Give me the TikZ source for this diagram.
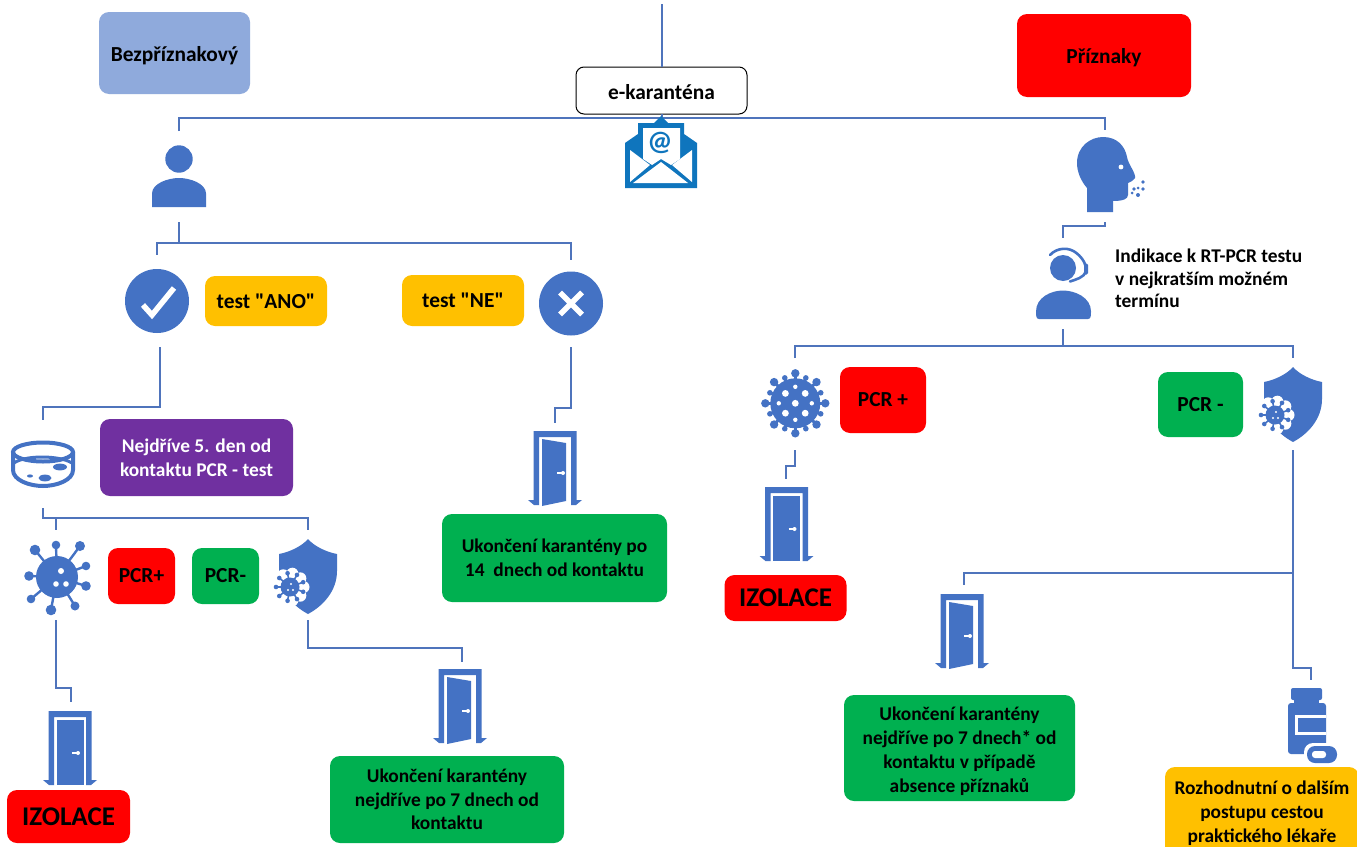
\documentclass[tikz,border=0pt]{standalone}
\usepackage{fontspec}
\setmainfont{Carlito}
\newfontfamily\qf{Carlito}
\newcommand\dnstrut[1]{\rule{0pt}{#1pt}}
\definecolor{ic}{HTML}{4472C4}
\definecolor{ln}{HTML}{4F74BC}
\definecolor{env}{HTML}{0F75BD}
\definecolor{boxblue}{HTML}{8FAADC}
\definecolor{boxred}{HTML}{FF0000}
\definecolor{boxgreen}{HTML}{00B050}
\definecolor{boxamber}{HTML}{FFC000}
\definecolor{boxpurple}{HTML}{7030A0}
\tikzset{
  lbl/.style={rounded corners=10pt,inner sep=0pt,outer sep=0pt,align=center,font=\bfseries\fontsize{19.4}{23.7}\selectfont,text=black},
  lblbig/.style={lbl,font=\bfseries\fontsize{21.4}{25}\selectfont},
  lblhuge/.style={lbl,font=\bfseries\fontsize{27}{30}\selectfont},
  hit/.style={inner sep=0pt,outer sep=0pt,minimum width=1pt},
  conn/.style={draw=ln,line width=1.4pt},
  doorframe/.pic={
    \fill[ic] (-21.5,-37) -- (21.5,-37) -- (21.5,32) -- (27,32) -- (21,37) -- (16,37) -- (16,-31) -- (-16,-31) -- (-16,37) -- (-21,37) -- (-27,32) -- (-21.5,32) -- cycle;
  },
  dooropen/.pic={
    \pic {doorframe};
    \fill[ic] (-13,-29) -- (11,-25) -- (11,33) -- (-13,38) -- cycle;
    \draw[white,line width=1.6pt] (2,5) -- (8,5);
    \fill[white] (8,5) circle (2);
  },
  doorclosed/.pic={
    \pic {doorframe};
    \fill[ic] (-13.5,-28) -- (13.5,-28) -- (13.5,37) -- (-13.5,37) -- cycle;
    \draw[white,line width=1.6pt] (2,5) -- (8,5);
    \fill[white] (8,5) circle (2);
  },
  personicon/.pic={
    \fill[ic] (0,-17.5) circle (13.7);
    \fill[ic] (-27,30.5) -- (-27,17) .. controls (-27,7) and (-11,1.5) .. (0,1.5) .. controls (11,1.5) and (27,7) .. (27,17) -- (27,30.5) -- cycle;
  },
  checkicon/.pic={
    \fill[ic] (0,0) circle (32);
    \draw[white,line width=5.5pt] (-14,4) -- (-5,14) -- (17,-13);
  },
  crossicon/.pic={
    \fill[ic] (0,0) circle (32);
    \draw[white,line width=5.5pt] (-11,-11) -- (11,11) (-11,11) -- (11,-11);
  },
  dishicon/.pic={
    \draw[ic,line width=4pt] (0,-12) ellipse (30 and 9.5);
    \draw[ic,line width=4pt] (-30,-12) -- (-30,6) .. controls (-30,16) and (-14,22) .. (0,22) .. controls (14,22) and (30,16) .. (30,6) -- (30,-12);
    \draw[ic,line width=3pt] (-29,-1) .. controls (-18,-9) and (16,-9) .. (29,-1);
    \fill[ic] (2,14) ellipse (6.5 and 3.4);
    \fill[ic] (-13,12) ellipse (3 and 1.6);
    \fill[ic] (17,3) ellipse (7 and 3.4);
  },
  virusa/.pic={
    \fill[ic] (0,0) circle (21);
    \foreach \bx/\by/\br in {-1/-32/4.3, 23/-31/5, 29/-11/4.3, 29/9/4.8, 18/29/4.5, -6/33/5.3, -26/22/4.3, -28/-1/4.8, -22/-27/5.3}{
      \draw[ic,line width=2.4pt] (0,0) -- (\bx,\by);
      \fill[ic] (\bx,\by) circle (\br);
    }
    \fill[white] (4,-6) circle (3);
    \fill[white] (-1,7) circle (2.8);
    \fill[white] (9,7) circle (2.8);
  },
  virusb/.pic={
    \fill[ic] (0,0) circle (25);
    \foreach \a in {0,45,...,315}{
      \draw[ic,line width=3pt] (0,0) -- (\a:30);
      \fill[ic] (\a:30) circle (4.2);
    }
    \foreach \a in {22.5,67.5,...,337.5}{
      \draw[ic,line width=3pt] (0,0) -- (\a:28);
      \fill[ic] (\a:27.5) circle (2.8);
    }
    \fill[white] (0,0) circle (3.4);
    \foreach \a in {45,135,225,315}{\fill[white] (\a:14) circle (3.4);}
    \foreach \a in {0,90,180,270}{\fill[white] (\a:16.5) circle (2.2);}
  },
  shieldicon/.pic={
    \fill[ic] (0,-37) .. controls (6,-30) and (18,-24) .. (29,-22) -- (29,-5) .. controls (29,15) and (15,30) .. (0,38) .. controls (-15,30) and (-29,15) .. (-29,-5) -- (-29,-22) .. controls (-18,-24) and (-6,-30) .. (0,-37) -- cycle;
    \begin{scope}[shift={(-18,11)}]
      \fill[white] (0,0) circle (14);
      \foreach \a in {0,40,...,320}{\fill[white] (\a:13.5) circle (6);}
      \fill[ic] (0,0) circle (9.5);
      \foreach \a in {20,60,...,340}{
        \draw[ic,line width=1.6pt] (0,0) -- (\a:14);
        \fill[ic] (\a:14) circle (2.3);
      }
      \fill[white] (1,-3) circle (1.1);
      \fill[white] (-2,3) circle (1.1);
      \fill[white] (3,3) circle (1.1);
    \end{scope}
  },
  headicon/.pic={
    \fill[ic] (-28,-13) .. controls (-28,-30) and (-14,-39) .. (-2,-39) .. controls (12,-39) and (20,-30) .. (22,-19) .. controls (23,-12) and (31,-3) .. (30,2) .. controls (28,5) and (25,6) .. (23,7) -- (23,19) .. controls (23,23) and (18,25) .. (8,25) -- (8,36) -- (-18,36) -- (-18,12) .. controls (-24,5) and (-28,-4) .. (-28,-13) -- cycle;
    \fill[white] (16,-9) circle (2.4);
    \fill[ic] (38,6) circle (1.8);
    \fill[ic] (38,13) circle (1.8);
    \fill[ic] (33,19) circle (2);
    \fill[ic] (29,13) circle (1.8);
    \fill[ic] (33,12) circle (1.5);
    \fill[ic] (27,17) circle (1.5);
  },
  agenticon/.pic={
    \fill[ic] (0,-15.5) circle (13);
    \draw[ic,line width=2.6pt,line cap=round] (-13,-28.5) .. controls (-6,-36) and (6,-37) .. (14,-30) .. controls (20,-25) and (24,-18) .. (23,-12) .. controls (21,-6) and (13,-4) .. (7,-2);
    \fill[ic,rounded corners=1.5pt] (21,-20) rectangle (25,-9);
    \fill[ic] (-24,35.5) .. controls (-27,35.5) and (-27,32) .. (-27,28) .. controls (-27,14) and (-12,7) .. (0,7) .. controls (12,7) and (28,14) .. (28,28) .. controls (28,32) and (28,35.5) .. (25,35.5) -- cycle;
  },
  bottleicon/.pic={
    \fill[ic,rounded corners=2pt] (-20,-32) rectangle (11,-20);
    \fill[ic] (-17,-21) rectangle (8,-15);
    \fill[ic,rounded corners=3pt] (-23,-17) rectangle (15,34);
    \fill[white] (-16,-5) rectangle (15,15);
    \fill[ic] (-13,-2) rectangle (15,12);
    \fill[white,rounded corners=9pt] (-7,23) rectangle (29,45);
    \fill[ic,rounded corners=8pt] (-4,26) rectangle (26,43);
    \fill[white,rounded corners=3pt] (1,31) rectangle (15,38);
  },
  envicon/.pic={
    \fill[env] (-36,-9) -- (-23,-18) -- (-23,-29) -- (-7,-29) -- (0,-36) -- (7,-29) -- (23,-29) -- (23,-18) -- (36,-9) -- (36,36) -- (-36,36) -- cycle;
    \fill[white] (-18,-24) -- (19,-24) -- (19,7) -- (10,13) -- (0,7) -- (-9,13) -- (-18,7) -- cycle;
    \fill[white] (-31,-2) -- (-11,13) -- (-31,30) -- cycle;
    \fill[white] (31,-2) -- (11,13) -- (31,30) -- cycle;
    \fill[white] (-28,31) -- (0,10) -- (27,31) -- cycle;
  }
}
\begin{document}
\begin{tikzpicture}[x=1pt,y=-1pt]
\path[use as bounding box] (0,0) rectangle (1357,846);
\clip (0,0) rectangle (1357,846);
\fill[white] (0,0) rectangle (1357,846);

% invisible nodes that hold the icons' connector ends
\node[hit,minimum height=91pt] (person) at (179,176.5) {};
\node[hit,minimum height=92pt] (check) at (157,301) {};
\node[hit,minimum height=87pt] (cross) at (571,303.5) {};
\node[hit,minimum height=88pt] (dish) at (43,464) {};
\node[hit,minimum height=90pt] (doorA) at (555,468) {};
\node[hit,minimum height=90pt] (virusL) at (56,575) {};
\node[hit,minimum height=90pt] (shieldL) at (308,575) {};
\node[hit,minimum height=92pt] (doorB) at (71,748) {};
\node[hit,minimum height=88pt] (doorC) at (462,706) {};
\node[hit,minimum height=92pt] (head) at (1105,176) {};
\node[hit,minimum height=91pt] (agent) at (1063,283.5) {};
\node[hit,minimum height=92pt] (virusR) at (795,404) {};
\node[hit,minimum height=92pt] (shieldR) at (1293,404) {};
\node[hit,minimum height=90pt] (doorD) at (786,524) {};
\node[hit,minimum height=92pt] (doorE) at (964,631) {};
\node[hit,minimum height=80pt] (bottle) at (1311,720) {};
\coordinate (topEnd) at (662,4);

% boxes
\node[lblbig,fill=boxblue,minimum width=151pt,minimum height=82pt] (bez) at (174.5,53) {\dnstrut{20}Bezpříznakový};
\node[lblbig,fill=boxred,minimum width=174pt,minimum height=83pt] (pri) at (1104,55.5) {\dnstrut{20}Příznaky};
\node[lblbig,fill=boxamber,minimum width=122pt,minimum height=50pt] (ano) at (266,301) {\qf\bfseries test "ANO"};
\node[lblbig,fill=boxamber,minimum width=122pt,minimum height=51pt] (ne) at (463,300.5) {\qf\bfseries test "NE"};
\node[lbl,fill=boxpurple,text=white,minimum width=193pt,minimum height=77pt] (pur) at (196.5,457.5) {Nejdříve 5. den od\\kontaktu PCR - test};
\node[lblbig,fill=boxred,minimum width=67pt,minimum height=56pt] (pl) at (141.5,576) {PCR+};
\node[lblbig,fill=boxgreen,minimum width=67pt,minimum height=56pt] (mi) at (225.5,576) {PCR-};
\node[lbl,fill=boxgreen,minimum width=225pt,minimum height=88pt] (uk14) at (554.5,558) {Ukončení karantény po\\14\ \ dnech od kontaktu};
\node[lblhuge,fill=boxred,minimum width=123pt,minimum height=53pt] (izL) at (68.5,816.5) {IZOLACE};
\node[lbl,fill=boxgreen,minimum width=234pt,minimum height=87pt] (uk7L) at (447,799.5) {Ukončení karantény\\nejdříve po 7 dnech od\\kontaktu};
\node[lblbig,fill=boxred,minimum width=86pt,minimum height=66pt] (plR) at (883,400) {PCR +};
\node[lblbig,fill=boxgreen,minimum width=85pt,minimum height=65pt] (miR) at (1200.5,404.5) {PCR -};
\node[lblhuge,fill=boxred,minimum width=122pt,minimum height=46pt] (izR) at (785.5,598) {IZOLACE};
\node[lbl,fill=boxgreen,minimum width=231pt,minimum height=106pt] (uk7R) at (959.5,748) {\dnstrut{20}Ukončení karantény\\nejdříve po 7 dnech* od\\kontaktu v případě\\absence příznaků};
\node[lbl,fill=boxamber,minimum width=194pt,minimum height=90pt] (roz) at (1262,812) {\dnstrut{16}Rozhodnutní o dalším\\postupu cestou\\praktického lékaře};
\node[inner sep=0pt,anchor=west,align=left,font=\bfseries\fontsize{19.4}{22.5}\selectfont] (ind) at (1115,278.5) {Indikace k RT-PCR testu\\v nejkratším možném\\termínu};

% junctions
\coordinate (jTop) at (662,118);
\coordinate (jP) at (179,243);
\coordinate (jC) at (160,407);
\coordinate (jX) at (571,408);
\coordinate (jD) at (43,518);
\coordinate (jVL) at (56,688);
\coordinate (jSL) at (308,648);
\coordinate (jH) at (1105,226);
\coordinate (jA) at (1063,346);
\coordinate (jVR) at (795,466);
\coordinate (jSR) at (1293,573);
\coordinate (jSB) at (1293,668);

% e-karantena
\node[lblbig,rounded corners=8pt,draw=black,line width=1pt,fill=white,minimum width=171pt,minimum height=47pt] (ek) at (661.5,90.5) {\dnstrut{19}e-karanténa};

% connectors
\draw[conn] (topEnd) -- (ek.north -| topEnd);
\draw[conn] (ek.south -| jTop) -- (jTop);
\draw[conn] (person.north) |- (jTop) -| (head.north);
\draw[conn] (person.south) -- (jP) -| (check.north);
\draw[conn] (jP) -| (cross.north);
\draw[conn] ([xshift=3pt]check.south) -- (jC) -| (dish.north);
\draw[conn] (cross.south) -- (jX) -| (doorA.north);
\draw[conn] (dish.south) |- (jD) -| (shieldL.north);
\draw[conn] (jD -| virusL) -- (virusL.north);
\draw[conn] (virusL.south) -- (jVL) -| (doorB.north);
\draw[conn] (shieldL.south) -- (jSL) -| (doorC.north);
\draw[conn] (head.south) -- (jH) -| (agent.north);
\draw[conn] (agent.south) -- (jA);
\draw[conn] (virusR.north) |- (jA) -| (shieldR.north);
\draw[conn] (virusR.south) -- (jVR) -| (doorD.north);
\draw[conn] (shieldR.south) -- (jSR) -| (doorE.north);
\draw[conn] (jSR) -- (jSB) -| (bottle.north);

% icons
\pic at (179,176.5) {personicon};
\pic at (157,301) {checkicon};
\pic at (571,303.5) {crossicon};
\pic at (43,464) {dishicon};
\pic at (555,468) {dooropen};
\pic at (57,577) {virusa};
\pic at (308,576) {shieldicon};
\pic at (70,748) {doorclosed};
\pic at (460,706) {dooropen};
\pic at (1105,176) {headicon};
\pic at (1063,283.5) {agenticon};
\pic at (795.3,403.3) {virusb};
\pic at (1293,404) {shieldicon};
\pic at (786.5,524) {doorclosed};
\pic at (962,631) {dooropen};
\pic at (1311,720) {bottleicon};
\pic at (661,152) {envicon};
\node[inner sep=0pt,text=env,font=\bfseries\fontsize{28}{28}\selectfont] (at) at (660,143) {@};
\end{tikzpicture}
\end{document}
